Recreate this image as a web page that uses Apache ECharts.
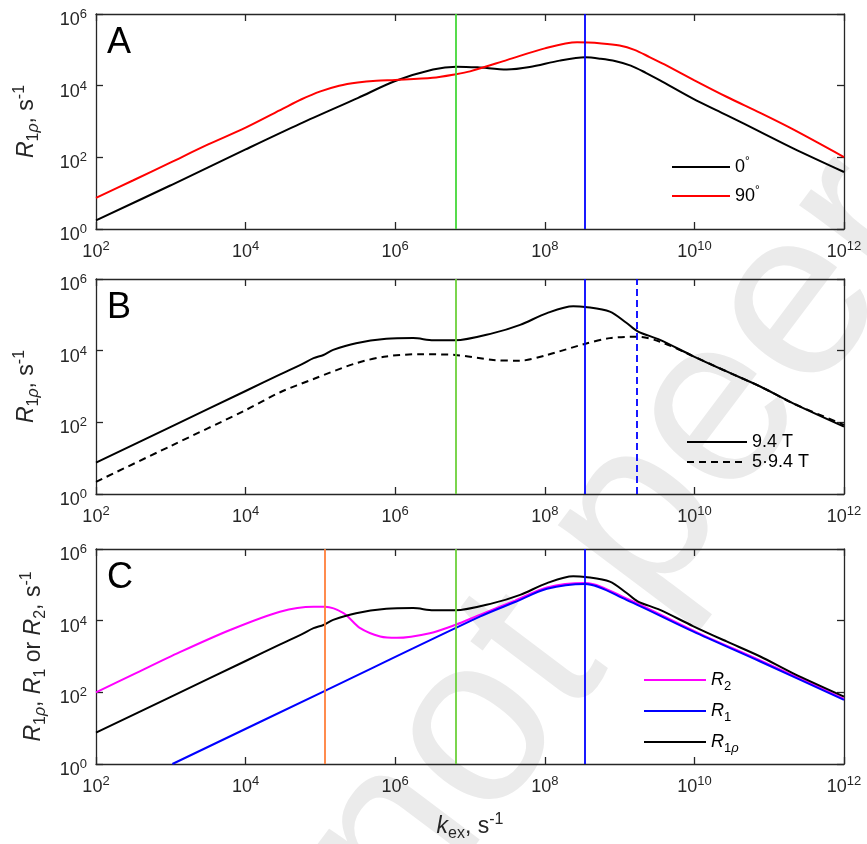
<!DOCTYPE html>
<html>
<head>
<meta charset="utf-8">
<script src="https://cdn.jsdelivr.net/npm/echarts@6/dist/echarts.min.js"></script>
<style>
html, body { margin: 0; padding: 0; background: #fff; }
#chart { width: 867px; height: 844px; }
</style>
</head>
<body>
<div id="chart"></div>
<script>
// tick positions
const xTicks = [1e2, 1e4, 1e6, 1e8, 1e10, 1e12];
const yTicks = [1, 1e2, 1e4, 1e6];

// panel A: R1rho for two angles, [kex, R]
const a0deg = [[1e2, 1.74], [1e3, 16.6], [1e4, 166], [5.4e4, 871], [3.2e5, 4570], [1e6, 1.35e4],
  [3.2e6, 2.82e4], [6.6e6, 3.39e4], [1.26e7, 3.24e4], [3.1e7, 2.82e4], [6.3e7, 3.31e4],
  [1.58e8, 5.0e4], [3.47e8, 6.17e4], [5.6e8, 5.62e4], [8.9e8, 4.79e4], [1.41e9, 3.63e4],
  [2.24e9, 2.29e4], [3.47e9, 1.41e4], [9.55e9, 4370], [2.69e10, 1510], [7.59e10, 513],
  [2.09e11, 178], [1e12, 38.9]];
const a90deg = [[1e2, 7.4], [3.16e2, 22.9], [1e3, 72.4], [3.16e3, 229], [1e4, 676], [3.16e4, 2290],
  [5.6e4, 4170], [1e5, 6920], [1.78e5, 1e4], [3.16e5, 1.23e4], [5.6e5, 1.38e4], [1e6, 1.45e4],
  [3.16e6, 1.66e4], [6.5e6, 2.09e4], [1e7, 2.51e4], [3.16e7, 5.25e4], [1e8, 1.1e5],
  [2.7e8, 1.62e5], [5.75e8, 1.51e5], [1e9, 1.32e5], [1.58e9, 1e5], [2.51e9, 6.3e4],
  [3.98e9, 3.9e4], [1e10, 1.41e4], [2.69e10, 4900], [7.59e10, 1740], [2.09e11, 603], [1e12, 102]];

// panel B: 9.4 T and 5x9.4 T
const b94 = [[1e2, 7.5], [1e3, 75], [1e4, 750], [2.9e4, 2190], [5.6e4, 4170], [8.1e4, 6170],
  [1.1e5, 7590], [1.48e5, 1.05e4], [3e5, 1.62e4], [7.6e5, 2.14e4], [1.74e6, 2.24e4],
  [3.24e6, 1.95e4], [6.3e6, 1.95e4], [2.04e7, 3.09e4], [4.68e7, 5.25e4], [1.07e8, 1.12e5],
  [2.4e8, 1.74e5], [3.47e8, 1.66e5], [7.4e8, 1.23e5], [1.23e9, 6.0e4], [1.74e9, 3.47e4],
  [3.47e9, 2.0e4], [9.55e9, 7080], [2.69e10, 2630], [7.59e10, 1000], [2.09e11, 339], [1e12, 76]];
const b5x94 = [[1e2, 2.19], [1e3, 21.9], [1e4, 219], [2.9e4, 692], [8.1e4, 1620], [3e5, 4470],
  [7.6e5, 6920], [2.1e6, 7940], [6.3e6, 7590], [2.04e7, 5500], [4.68e7, 5250], [1.07e8, 7590],
  [3.3e8, 1.51e4], [7.4e8, 2.24e4], [1.74e9, 2.45e4], [3.47e9, 1.78e4], [9.55e9, 7080],
  [2.69e10, 2630], [7.59e10, 1000], [2.09e11, 339], [1e12, 85]];

// panel C: R2, R1 and R1rho
const cR2 = [[1e2, 100], [3.16e2, 316], [1.32e3, 1320], [6.2e3, 5500], [2.88e4, 1.78e4],
  [8.1e4, 2.45e4], [1.15e5, 2.45e4], [2.04e5, 1.62e4], [3.4e5, 6170], [6.3e5, 3630],
  [1.05e6, 3310], [2.9e6, 4470], [6.3e6, 7590], [1.35e7, 1.45e4], [4e7, 3.63e4], [1.07e8, 8.5e4],
  [3.47e8, 1.12e5], [1.23e9, 4.17e4], [1.17e10, 4370], [7.59e10, 776], [1e12, 66]];
const cR1 = [[1.05e3, 1], [1.15e5, 110], [1.35e7, 1.29e4], [4e7, 3.31e4], [1.07e8, 7.76e4],
  [3.47e8, 1.05e5], [1.23e9, 3.8e4], [9.55e9, 5010], [7.59e10, 724], [1e12, 61.7]];
const cR1rho = b94;

// vertical markers
const kGreen = 6.5e6;
const kBlue = 3.44e8;
const kBlueDash = 1.72e9;
const kOrange = 1.15e5;

const FONT = 'Liberation Sans, Arial, sans-serif';
const AXIS_COLOR = '#262626';
const tops = [14, 279, 549];
const H = 215;

const tickRich = {
  b: { fontSize: 18, lineHeight: 24, fontFamily: FONT, color: AXIS_COLOR },
  s: { fontSize: 13, lineHeight: 13, verticalAlign: 'top', fontFamily: FONT, color: AXIS_COLOR },
};
const tickFmt = (v) => '{b|10}{s|' + Math.round(Math.log10(v)) + '}';

const nameRich = {
  i: { fontSize: 23, lineHeight: 30, fontStyle: 'italic', fontFamily: FONT, color: AXIS_COLOR },
  n: { fontSize: 23, lineHeight: 30, fontFamily: FONT, color: AXIS_COLOR },
  sub: { fontSize: 16, lineHeight: 16, verticalAlign: 'bottom', fontFamily: FONT, color: AXIS_COLOR },
  subi: { fontSize: 16, lineHeight: 16, verticalAlign: 'bottom', fontStyle: 'italic', fontFamily: FONT, color: AXIS_COLOR },
  sup: { fontSize: 16, lineHeight: 16, verticalAlign: 'top', fontFamily: FONT, color: AXIS_COLOR },
};

const grids = tops.map((t) => ({ left: 96, top: t, width: 748, height: H }));

const xAxes = [];
const yAxes = [];
tops.forEach((t, i) => {
  const base = {
    type: 'log', logBase: 10, gridIndex: i, min: 1e2, max: 1e12,
    axisLine: { show: true, onZero: false, lineStyle: { color: AXIS_COLOR, width: 1.3 } },
    axisTick: { show: true, inside: true, length: 7, customValues: xTicks, lineStyle: { color: AXIS_COLOR, width: 1.3 } },
    minorTick: { show: false },
    splitLine: { show: false },
  };
  xAxes.push(Object.assign({}, base, {
    position: 'bottom',
    axisLabel: { show: true, margin: 11, customValues: xTicks, formatter: tickFmt, rich: tickRich },
    name: i === 2 ? '{i|k}{sub|ex}{n|, s}{sup|-1}' : '',
    nameLocation: 'middle', nameGap: 48,
    nameTextStyle: { rich: nameRich },
  }));
  xAxes.push(Object.assign({}, base, { position: 'top', axisLabel: { show: false } }));
  const ybase = {
    type: 'log', logBase: 10, gridIndex: i, min: 1, max: 1e6,
    axisLine: { show: true, onZero: false, lineStyle: { color: AXIS_COLOR, width: 1.3 } },
    axisTick: { show: true, inside: true, length: 7, customValues: yTicks, lineStyle: { color: AXIS_COLOR, width: 1.3 } },
    minorTick: { show: false },
    splitLine: { show: false },
  };
  yAxes.push(Object.assign({}, ybase, {
    position: 'left',
    axisLabel: { show: true, margin: 9, padding: [12, 0, 0, 0], customValues: yTicks, formatter: tickFmt, rich: tickRich },
    name: i === 2
      ? '{i|R}{sub|1}{subi|ρ}{n|, }{i|R}{sub|1}{n| or }{i|R}{sub|2}{n|, s}{sup|-1}'
      : '{i|R}{sub|1}{subi|ρ}{n|, s}{sup|-1}',
    nameLocation: 'middle', nameGap: i === 2 ? 36 : 54,
    nameTextStyle: { rich: nameRich },
  }));
  yAxes.push(Object.assign({}, ybase, { position: 'right', axisLabel: { show: false } }));
});

const vline = (k, color, type) => ({ xAxis: k, lineStyle: { color, width: 1.8, type } });
const mark = (list) => ({
  silent: true, symbol: ['none', 'none'], label: { show: false }, animation: false, data: list,
});

const line = (name, data, i, color, extra) => Object.assign({
  name, type: 'line', data, xAxisIndex: 2 * i, yAxisIndex: 2 * i,
  symbol: 'none', smooth: 0.3, clip: true, animation: false, z: 3,
  lineStyle: { color, width: 2, type: 'solid' },
  itemStyle: { color },
}, extra || {});

const GREEN = '#44d838';
const GREEN2 = '#6cd13a';
const BLUE = '#0000ff';

const series = [
  line('0°', a0deg, 0, '#000000', {
    markLine: mark([vline(kGreen, GREEN, 'solid'), vline(kBlue, BLUE, 'solid')]),
  }),
  line('90°', a90deg, 0, '#ff0000'),
  line('9.4 T', b94, 1, '#000000', {
    markLine: mark([vline(kGreen, GREEN2, 'solid'), vline(kBlue, BLUE, 'solid'), vline(kBlueDash, BLUE, [7, 4])]),
  }),
  line('5·9.4 T', b5x94, 1, '#000000', { lineStyle: { color: '#000000', width: 2, type: [7, 5] } }),
  line('R2', cR2, 2, '#ff00ff', {
    markLine: mark([vline(kOrange, '#ff7f3a', 'solid'), vline(kGreen, GREEN2, 'solid'), vline(kBlue, BLUE, 'solid')]),
  }),
  line('R1', cR1, 2, BLUE),
  line('R1ρ', cR1rho, 2, '#000000'),
];

const legRich = {
  t: { fontSize: 18, lineHeight: 22, fontFamily: FONT, color: '#000' },
  d: { fontSize: 12, lineHeight: 11, verticalAlign: 'top', fontFamily: FONT, color: '#000' },
  i: { fontSize: 18, lineHeight: 26, fontStyle: 'italic', fontFamily: FONT, color: '#000' },
  sub: { fontSize: 13, lineHeight: 13, verticalAlign: 'bottom', fontFamily: FONT, color: '#000' },
  subi: { fontSize: 13, lineHeight: 13, verticalAlign: 'bottom', fontStyle: 'italic', fontFamily: FONT, color: '#000' },
};
const legFmt = {
  '0°': '{t|0}{d|°}',
  '90°': '{t|90}{d|°}',
  '9.4 T': '{t|9.4 T}',
  '5·9.4 T': '{t|5·9.4 T}',
  'R2': '{i|R}{sub|2}',
  'R1': '{i|R}{sub|1}',
  'R1ρ': '{i|R}{sub|1}{subi|ρ}',
};
const legend = (names, left, top, w, gap) => ({
  data: names, orient: 'vertical', left, top, itemWidth: w, itemHeight: 14, itemGap: gap,
  selectedMode: false, padding: 0,
  itemStyle: { opacity: 0 },
  formatter: (n) => legFmt[n],
  textStyle: { rich: legRich },
});

const chart = echarts.init(document.getElementById('chart'), null, { renderer: 'canvas' });
chart.setOption({
  backgroundColor: '#ffffff',
  animation: false,
  textStyle: { fontFamily: FONT },
  grid: grids,
  xAxis: xAxes,
  yAxis: yAxes,
  legend: [
    legend(['0°', '90°'], 671, 156, 58, 9),
    legend(['9.4 T', '5·9.4 T'], 686, 433, 60, 2),
    legend(['R2', 'R1', 'R1ρ'], 643, 671, 62, 9),
  ],
  graphic: [
    {
      type: 'text', x: 930, y: 132, rotation: 53 * Math.PI / 180, z: -10, silent: true,
      style: {
        text: 'not peer reviewed', fontSize: 240, fontFamily: FONT, fill: '#ebebeb',
        align: 'center', verticalAlign: 'middle', textAlign: 'center', textVerticalAlign: 'middle',
      },
    },
  ].concat(['A', 'B', 'C'].map((L, i) => ({
    type: 'text', left: 107, top: tops[i] + 11,
    style: { text: L, fontSize: 36, fontFamily: FONT, fill: '#000' },
  }))),
  series,
});
</script>
</body>
</html>
